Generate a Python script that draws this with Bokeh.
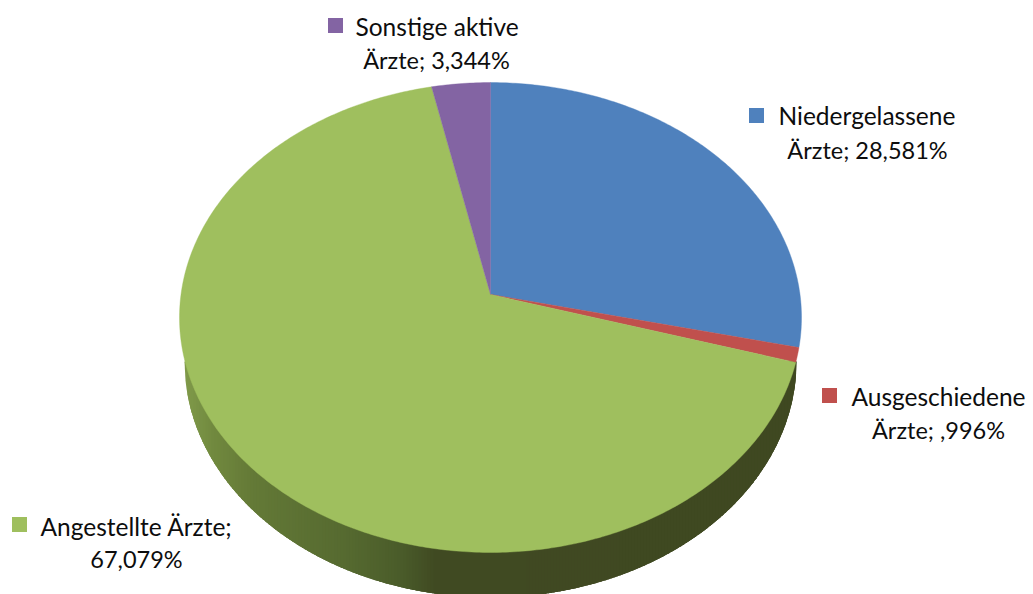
import numpy as np
from bokeh.core.properties import value
from bokeh.embed import file_html
from bokeh.plotting import figure
from bokeh.resources import INLINE

# Share of physicians by activity group, clockwise from twelve o'clock
categories = ["Niedergelassene Ärzte", "Ausgeschiedene Ärzte", "Angestellte Ärzte", "Sonstige aktive Ärzte"]
shares = [28.581, 0.996, 67.079, 3.344]
share_labels = ["Ärzte; 28,581%", "Ärzte; ,996%", "67,079%", "Ärzte; 3,344%"]
first_lines = ["Niedergelassene", "Ausgeschiedene", "Angestellte Ärzte;", "Sonstige aktive"]
colors = ["#4f81bd", "#c0504d", "#9fbf5e", "#8364a3"]

# Perspective disc: apex of the pie, tilt and perspective strength
APEX_X, APEX_Y = 490.0, 294.0
SCALE_X, SCALE_Y = 309.5, 232.7
PERSPECTIVE = 0.0979


def project(angle):
    """Map a clockwise angle from the top of the disc to page coordinates."""
    u, v = np.sin(angle), np.cos(angle)
    w = 1 + PERSPECTIVE * v
    return APEX_X + SCALE_X * u / w, APEX_Y - SCALE_Y * v / w


p = figure(width=1033, height=594, x_range=(0, 1033), y_range=(594, 0),
           output_backend="svg", toolbar_location=None, min_border=0,
           outline_line_color=None, background_fill_color="white",
           border_fill_color="white")
p.axis.visible = False
p.grid.visible = False

# Rim of the disc: overlapping vertical strips, painted left to right,
# shaded from olive to a dark tone; each one hides the seam of the last
BASE_Y, BASE_RX, BASE_RY = 361.0, 306.0, 236.0
shade_x = [184, 215, 250, 300, 345, 400, 435, 800]
shade_r = [128, 112, 100, 92, 86, 74, 64, 63]
shade_g = [154, 136, 122, 113, 106, 92, 74, 72]
shade_b = [74, 62, 55, 51, 48, 42, 34, 33]
edges = np.arange(184, 797, 3.0)
strip_xs, strip_ys, strip_colors = [], [], []
for left in edges[:-1]:
    sample = np.linspace(left, min(left + 8, 796), 9)
    low = BASE_Y + BASE_RY * np.sqrt(np.clip(1 - ((sample - APEX_X) / BASE_RX) ** 2, 0, 1))
    strip_xs.append(sample.tolist() + [sample[-1], sample[0]])
    strip_ys.append(low.tolist() + [BASE_Y, BASE_Y])
    rgb = [int(round(np.interp(left + 1.5, shade_x, c))) for c in (shade_r, shade_g, shade_b)]
    strip_colors.append("#%02x%02x%02x" % tuple(rgb))
p.patches(strip_xs, strip_ys, fill_color=strip_colors, line_color=None)

# Top face, one wedge per group
bounds = np.cumsum([0] + shares) / sum(shares) * 2 * np.pi
wedge_xs, wedge_ys = [], []
for start, end in zip(bounds[:-1], bounds[1:]):
    arc = np.linspace(start, end, max(int((end - start) * 90), 8))
    ax, ay = project(arc)
    wedge_xs.append([APEX_X] + ax.tolist())
    wedge_ys.append([APEX_Y] + ay.tolist())
p.patches(wedge_xs, wedge_ys, fill_color=colors, line_color=colors, line_width=0.4)

# Data labels: colour key, first line, and centred second line
key_x = [756, 829, 19, 335]
key_y = [115, 395, 524, 25]
first_x = [778, 851, 40, 355]
first_y = [115, 396, 526, 26]
second_x = [867, 938, 136, 436]
second_y = [149, 429, 558, 59]
font = value("Lato")
p.scatter(key_x, key_y, marker="square", size=15, fill_color=colors, line_color=None)
p.text(first_x, first_y, text=first_lines, text_font=font, text_font_size="24.5px",
       text_color="#0d0d0d", text_align="left", text_baseline="middle")
p.text(second_x, second_y, text=share_labels, text_font=font, text_font_size="23.5px",
       text_color="#0d0d0d", text_align="center", text_baseline="middle")

open("out.html", "w").write(file_html(p, INLINE))
